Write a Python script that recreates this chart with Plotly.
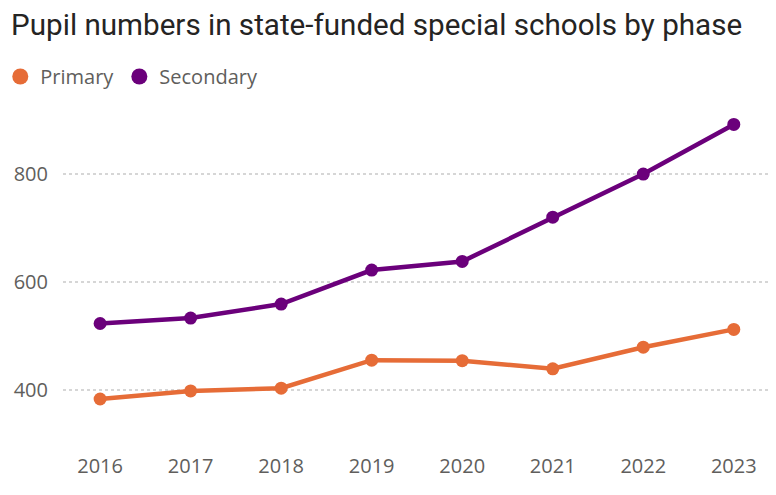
import plotly.graph_objects as go

years = ["2016", "2017", "2018", "2019", "2020", "2021", "2022", "2023"]
primary = [383, 398, 403, 455, 454, 439, 479, 512]
secondary = [523, 533, 559, 622, 638, 720, 800, 892]
y_ticks = [400, 600, 800]

ORANGE = "#E66C37"
PURPLE = "#6B007B"
GREY = "#605E5C"

fig = go.Figure()
for name, vals, col in [("Primary", primary, ORANGE), ("Secondary", secondary, PURPLE)]:
    fig.add_trace(go.Scatter(
        x=years, y=vals, mode="lines+markers", name=name,
        line=dict(color=col, width=4.5),
        marker=dict(color=col, size=13),
        showlegend=False, hoverinfo="x+y",
    ))
    fig.add_trace(go.Scatter(
        x=[None], y=[None], mode="markers", name=name,
        marker=dict(color=col, size=16), showlegend=True,
    ))

fig.update_layout(
    width=776, height=495,
    margin=dict(l=55, r=14, t=97, b=63, autoexpand=False),
    paper_bgcolor="white", plot_bgcolor="white",
    title=dict(
        text="Pupil numbers in state-funded special schools by phase",
        x=0.004, xanchor="left", y=0.966, yanchor="middle",
        font=dict(family="Roboto", size=29.6, color="#252423"),
    ),
    legend=dict(
        orientation="h", x=-0.0887, xanchor="left", y=1.085, yanchor="middle",
        font=dict(family="Open Sans", size=20, color=GREY),
        itemwidth=30, tracegroupgap=0, bgcolor="rgba(0,0,0,0)",
    ),
    font=dict(family="Open Sans", color=GREY),
)
fig.update_xaxes(
    type="category", range=[-0.41, 7.4], automargin=False,
    showgrid=False, zeroline=False, showline=False,
    ticks="outside", ticklen=8, tickcolor="rgba(0,0,0,0)",
    tickfont=dict(family="Open Sans", size=20, color=GREY),
)
fig.update_yaxes(
    range=[307, 928], tickvals=y_ticks, automargin=False,
    showgrid=True, gridcolor="#D6D6D6", griddash="dot", gridwidth=1.5,
    zeroline=False, showline=False,
    ticks="outside", ticklen=10, tickcolor="rgba(0,0,0,0)",
    tickfont=dict(family="Open Sans", size=20, color=GREY),
)

fig.write_html("out.html")
